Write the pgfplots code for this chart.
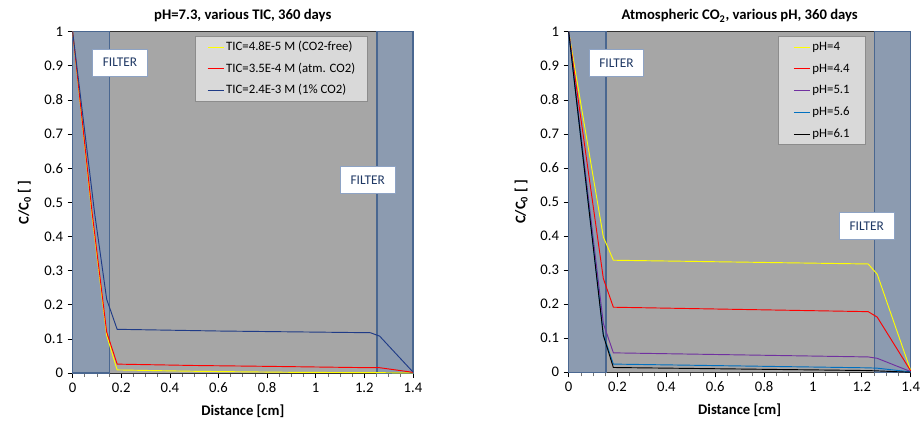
\documentclass[border=0pt]{standalone}
\usepackage{fontspec}
\setmainfont{Carlito}
\usepackage{pgfplots}
\pgfplotsset{compat=1.18}
\definecolor{bggray}{HTML}{A6A6A6}
\definecolor{band}{HTML}{8C9BB0}
\definecolor{bandborder}{HTML}{4A6790}
\definecolor{legbg}{HTML}{D9D9D9}
\definecolor{legdraw}{HTML}{8C8C8C}
\definecolor{filtertext}{HTML}{1F3864}
\definecolor{filterdraw}{HTML}{8EA3C4}
\definecolor{navy}{HTML}{1F3B87}
\definecolor{cyel}{HTML}{FFFF00}
\definecolor{cred}{HTML}{FF0000}
\definecolor{cpur}{HTML}{7030A0}
\definecolor{cblu}{HTML}{0070C0}
\tikzset{
  filterbox/.style={fill=white, draw=filterdraw, line width=0.6pt, text=filtertext,
    font=\fontsize{10}{12}\selectfont, minimum width=41pt, minimum height=20pt, inner sep=0pt},
  bandstyle/.style={fill=band, draw=bandborder, line width=1.1pt},
}
\pgfplotsset{
  mystyle/.style={
    scale only axis, anchor=south west, clip=false,
    xmin=0, xmax=1.4, ymin=0, ymax=1,
    xtick={0,0.2,0.4,0.6,0.8,1,1.2,1.4},
    ytick={0,0.1,0.2,0.3,0.4,0.5,0.6,0.7,0.8,0.9,1},
    minor x tick num=3,
    tick align=outside, xtick pos=bottom, ytick pos=left,
    major tick length=3.75pt, minor tick length=3pt,
    every major tick/.style={black, line width=0.5pt},
    every minor tick/.style={black!55, line width=0.5pt},
    axis background/.style={fill=bggray},
    axis line style={black!80, line width=0.6pt},
    ticklabel style={font=\fontsize{11}{13}\selectfont},
    /pgf/number format/assume math mode=true,
    /pgf/number format/fixed, /pgf/number format/precision=1,
    title style={font=\bfseries\fontsize{11}{13}\selectfont, at={(axis description cs:0.5,1)}, anchor=base, yshift=2.8pt},
    xlabel style={font=\bfseries\fontsize{11}{13}\selectfont, at={(axis description cs:0.5,-0.111)}, anchor=center},
    ylabel style={font=\bfseries\fontsize{11}{13}\selectfont, anchor=center},
    legend cell align=left,
    legend image code/.code={\draw[##1, line width=0.8pt] (0pt,0pt) -- (12pt,0pt);},
    legend style={anchor=north west, fill=legbg, draw=legdraw, line width=0.6pt,
      font=\fontsize{9.6}{11.5}\selectfont, row sep=6.3pt, inner ysep=2.8pt,
      nodes={inner sep=0pt, text height=7.5pt, text depth=2.5pt},
      /tikz/every odd column/.append style={column sep=1.5pt}},
  },
  ln/.style={#1, line width=0.7pt},
}
\begin{document}
\begin{tikzpicture}
\path[use as bounding box] (0,0) rectangle (690.75pt,318pt);
% ---------------- left chart
\begin{axis}[mystyle, at={(54.5pt,38.25pt)}, width=255.2pt, height=256pt,
  title={pH=7.3, various TIC, 360 days},
  xlabel={Distance [cm]},
  ylabel={C/C\textsubscript{0} [ ]},
  ylabel style={at={(axis description cs:-0.1416,0.5)}},
  legend style={at={(axis description cs:0.3585,0.9865)}, inner xsep=9pt}]
\draw[bandstyle] (axis cs:0,0) rectangle (axis cs:0.152,1);
\draw[bandstyle] (axis cs:1.252,0) rectangle (axis cs:1.4,1);
\addplot[ln=cyel] coordinates {(0,1)(0.08,0.46)(0.14,0.11)(0.183,0.009)(0.5,0.005)(0.9,0.002)(1.225,0.001)(1.263,0.001)(1.4,0)};
\addlegendentry{TIC=4.8E-5 M (CO2-free)}
\addplot[ln=cred] coordinates {(0,1)(0.08,0.47)(0.14,0.12)(0.183,0.026)(0.5,0.022)(0.8,0.0195)(1.225,0.0155)(1.263,0.0155)(1.4,0.002)};
\addlegendentry{TIC=3.5E-4 M (atm. CO2)}
\addplot[ln=navy] coordinates {(0,1)(0.09,0.47)(0.14,0.216)(0.183,0.128)(0.6,0.123)(1.225,0.118)(1.263,0.108)(1.4,0.003)};
\addlegendentry{TIC=2.4E-3 M (1\% CO2)}
\node[filterbox] at (axis cs:0.195,0.909) {FILTER};
\node[filterbox] at (axis cs:1.214,0.566) {FILTER};
\end{axis}
% ---------------- right chart
\begin{axis}[mystyle, at={(426.5pt,38.8pt)}, width=256.5pt, height=255.4pt,
  title={Atmospheric CO\textsubscript{2}, various pH, 360 days},
  xlabel={Distance [cm]},
  ylabel={C/C\textsubscript{0} [ ]},
  ylabel style={at={(axis description cs:-0.139,0.5)}},
  legend style={at={(axis description cs:0.611,0.9865)}, inner xsep=11.5pt}]
\draw[bandstyle] (axis cs:0,0) rectangle (axis cs:0.152,1);
\draw[bandstyle] (axis cs:1.252,0) rectangle (axis cs:1.4,1);
\addplot[ln=cyel] coordinates {(0,1)(0.142,0.397)(0.183,0.329)(1.226,0.318)(1.263,0.288)(1.4,0.005)};
\addlegendentry{pH=4}
\addplot[ln=cred] coordinates {(0,1)(0.142,0.275)(0.183,0.191)(1.226,0.178)(1.263,0.162)(1.4,0.004)};
\addlegendentry{pH=4.4}
\addplot[ln=cpur] coordinates {(0,1)(0.142,0.143)(0.183,0.057)(1.226,0.045)(1.263,0.041)(1.4,0.002)};
\addlegendentry{pH=5.1}
\addplot[ln=cblu] coordinates {(0,1)(0.142,0.11)(0.183,0.024)(1.226,0.013)(1.263,0.012)(1.4,0.001)};
\addlegendentry{pH=5.6}
\addplot[ln=black] coordinates {(0,1)(0.142,0.108)(0.183,0.014)(1.226,0.005)(1.263,0.004)(1.4,0)};
\addlegendentry{pH=6.1}
\node[filterbox] at (axis cs:0.196,0.908) {FILTER};
\node[filterbox] at (axis cs:1.22,0.4295) {FILTER};
\end{axis}
\end{tikzpicture}
\end{document}
